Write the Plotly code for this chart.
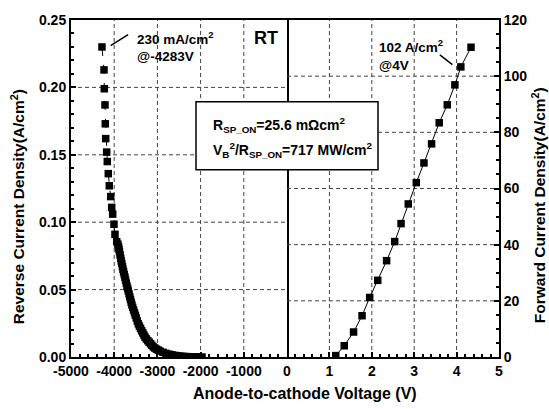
import plotly.graph_objects as go

# ---------------- data ----------------
rev_v = [-4283, -4236, -4229, -4213, -4206, -4197, -4174, -4160, -4137, -4114,
         -4081, -4058, -4035, -4005, -3982, -3942,
         -3915, -3901, -3890, -3878, -3864, -3850, -3837, -3824, -3810, -3797,
         -3782, -3767, -3751, -3736, -3720, -3704, -3689, -3674, -3656, -3639,
         -3623, -3607, -3590, -3572, -3551, -3530, -3510, -3489, -3466, -3442,
         -3417, -3391, -3365, -3338, -3312, -3287, -3255, -3222, -3191, -3160,
         -3128, -3095, -3058, -3021, -2980, -2940, -2871, -2801, -2732, -2662,
         -2593, -2523, -2454, -2384, -2315, -2245, -2153, -2060, -1968]
rev_j = [0.230, 0.213, 0.199, 0.187, 0.173, 0.162, 0.152, 0.145, 0.136, 0.127,
         0.119, 0.111, 0.106, 0.0985, 0.091, 0.0855,
         0.0837, 0.0819, 0.0800, 0.0782, 0.0758, 0.0733, 0.0713, 0.0694, 0.0672, 0.0651,
         0.0631, 0.0612, 0.0591, 0.0570, 0.0548, 0.0526, 0.0508, 0.0490, 0.0468, 0.0446,
         0.0426, 0.0406, 0.0387, 0.0368, 0.0348, 0.0329, 0.0309, 0.0289, 0.0267, 0.0246,
         0.0229, 0.0212, 0.0195, 0.0179, 0.0163, 0.0148, 0.0134, 0.0121, 0.0110, 0.0099,
         0.0087, 0.0075, 0.0066, 0.0058, 0.0051, 0.0044, 0.0035, 0.0027, 0.0021, 0.0016,
         0.0012, 0.0009, 0.0006, 0.0004, 0.0003, 0.0002, 0.0001, 0.0001, 0.0]

fwd_v = [1.15, 1.35, 1.57, 1.77, 1.95, 2.14, 2.35, 2.54, 2.69, 2.86,
         3.05, 3.23, 3.41, 3.59, 3.78, 3.96, 4.10, 4.34]
fwd_j = [0.5, 4.0, 8.9, 14.7, 21.2, 27.3, 34.3, 41.1, 47.5, 54.5,
         62.1, 69.1, 75.9, 83.4, 89.8, 96.9, 103.3, 110.3]

rev_ticks = [-5000, -4000, -3000, -2000, -1000]
rev_tick_labels = ["-5000", "-4000", "-3000", "-2000", "-1000"]
fwd_ticks = [0, 1, 2, 3, 4, 5]
rev_y_ticks = [0.0, 0.05, 0.10, 0.15, 0.20, 0.25]
fwd_y_ticks = [0, 20, 40, 60, 80, 100, 120]

REV_X_RANGE = [-5000, 0]
FWD_X_RANGE = [0, 5]
REV_Y_RANGE = [0, 0.25]
FWD_Y_RANGE = [0, 120]

# ---------------- layout geometry ----------------
W_FIG, H_FIG = 549, 409
L, R, T, B = 71, 499, 15, 357
PW, PH = R - L, B - T
SPLIT = (287 - L) / PW


def px(x):
    return (x - L) / PW


def py(y):
    return (B - y) / PH


FONT = "Liberation Sans, Arial, sans-serif"
tickfont = dict(family=FONT, size=14, color="black", weight="bold")

common_axis = dict(
    showline=True, linewidth=2, linecolor="black",
    ticks="inside", ticklen=5, tickwidth=1.5, tickcolor="black",
    showgrid=False, zeroline=False, tickfont=tickfont,
)

fig = go.Figure()


def grid_trace(xs, ys, xa, ya):
    return go.Scatter(x=xs, y=ys, xaxis=xa, yaxis=ya, mode="lines", hoverinfo="skip",
                      line=dict(color="#444444", width=1, dash="4px,3px"), showlegend=False)


def vlines(vals, yr):
    xs, ys = [], []
    for v in vals:
        xs += [v, v, None]
        ys += [yr[0], yr[1], None]
    return xs, ys


def hlines(vals, xr):
    xs, ys = [], []
    for v in vals:
        xs += [xr[0], xr[1], None]
        ys += [v, v, None]
    return xs, ys


# dotted grid (inner tick positions of each panel)
fig.add_trace(grid_trace(*vlines(rev_ticks[1:], REV_Y_RANGE), "x", "y"))
fig.add_trace(grid_trace(*hlines(rev_y_ticks[1:-1], REV_X_RANGE), "x", "y"))
fig.add_trace(grid_trace(*vlines(fwd_ticks[1:-1], FWD_Y_RANGE), "x2", "y2"))
fig.add_trace(grid_trace(*hlines(fwd_y_ticks[1:-1], FWD_X_RANGE), "x2", "y2"))

fig.add_trace(go.Scatter(
    x=rev_v, y=rev_j, xaxis="x", yaxis="y", mode="lines+markers",
    marker=dict(symbol="square", size=7.5, color="black"),
    line=dict(color="black", width=1, dash="dash"), showlegend=False,
))
fig.add_trace(go.Scatter(
    x=fwd_v, y=fwd_j, xaxis="x2", yaxis="y2", mode="lines+markers",
    marker=dict(symbol="square", size=7.5, color="black"),
    line=dict(color="black", width=1), showlegend=False,
))

fig.update_layout(
    width=W_FIG, height=H_FIG,
    margin=dict(l=L, r=W_FIG - R, t=T, b=H_FIG - B),
    paper_bgcolor="white", plot_bgcolor="white",
    font=dict(family=FONT, color="black"),
    xaxis=dict(common_axis, domain=[0, SPLIT], range=REV_X_RANGE, anchor="y", mirror=True,
               tickmode="array", tickvals=rev_ticks, ticktext=rev_tick_labels,
               minor=dict(ticks="inside", ticklen=3, dtick=200, tickcolor="black")),
    xaxis2=dict(common_axis, domain=[SPLIT, 1], range=FWD_X_RANGE, anchor="y2", mirror=True,
                tickmode="array", tickvals=fwd_ticks,
                minor=dict(ticks="inside", ticklen=3, dtick=0.2, tickcolor="black")),
    yaxis=dict(common_axis, domain=[0, 1], range=REV_Y_RANGE, anchor="x", mirror=True,
               tickmode="array", tickvals=rev_y_ticks, tickformat=".2f",
               minor=dict(ticks="inside", ticklen=3, dtick=0.01, tickcolor="black")),
    yaxis2=dict(common_axis, domain=[0, 1], range=FWD_Y_RANGE, anchor="x2", side="right", mirror=False,
                tickmode="array", tickvals=fwd_y_ticks,
                minor=dict(ticks="inside", ticklen=3, dtick=5, tickcolor="black")),
)

# parameter box
fig.add_shape(type="rect", xref="paper", yref="paper",
              x0=px(196), x1=px(378), y0=py(167), y1=py(98),
              line=dict(color="black", width=1.5), fillcolor="white", layer="above")

ann_font = dict(family=FONT, size=13.5, color="black", weight="bold")
box_font = dict(family=FONT, size=14, color="black", weight="bold")
title_font = dict(family=FONT, size=16, color="black", weight="bold")
ytitle_font = dict(family=FONT, size=15.5, color="black", weight="bold")

anns = [
    dict(text="230 mA/cm<sup>2</sup>", x=px(135), y=py(33), xanchor="left", yanchor="middle", font=ann_font),
    dict(text="@-4283V", x=px(135), y=py(52), xanchor="left", yanchor="middle", font=ann_font),
    dict(text="RT", x=px(266), y=py(33), xanchor="center", yanchor="middle",
         font=dict(family=FONT, size=18, color="black", weight="bold")),
    dict(text="102 A/cm<sup>2</sup>", x=px(377), y=py(41), xanchor="left", yanchor="middle", font=ann_font),
    dict(text="@4V", x=px(377), y=py(61), xanchor="left", yanchor="middle", font=ann_font),
    dict(text="R<sub>SP_ON</sub>=25.6 mΩcm<sup>2</sup>", x=px(211), y=py(122),
         xanchor="left", yanchor="middle", font=box_font),
    dict(text="V<sub>B</sub><sup>2</sup>/R<sub>SP_ON</sub>=717 MW/cm<sup>2</sup>", x=px(211), y=py(147),
         xanchor="left", yanchor="middle", font=box_font),
    dict(text="Anode-to-cathode Voltage (V)", x=px(305), y=py(394),
         xanchor="center", yanchor="middle", font=title_font),
    dict(text="Reverse Current Density(A/cm<sup>2</sup>)", x=px(18), y=py(205), textangle=-90,
         xanchor="center", yanchor="middle", font=ytitle_font),
    dict(text="Forward Current Density(A/cm<sup>2</sup>)", x=px(539), y=py(203), textangle=-90,
         xanchor="center", yanchor="middle", font=ytitle_font),
]
for a in anns:
    fig.add_annotation(xref="paper", yref="paper", showarrow=False, **a)

# leader lines to the labelled points
fig.add_annotation(xref="x", yref="y", x=rev_v[0] + 200, y=rev_j[0] + 0.001, text="",
                   showarrow=True, arrowhead=0, arrowwidth=1.5, arrowcolor="black",
                   ax=19, ay=-12, standoff=0)
fig.add_annotation(xref="x2", yref="y2", x=fwd_v[16] - 0.2, y=fwd_j[16] + 0.8, text="",
                   showarrow=True, arrowhead=0, arrowwidth=1.5, arrowcolor="black",
                   ax=-14, ay=-11, standoff=0)

fig.write_html("out.html", post_script="document.body.style.margin='0';",
               config={"displayModeBar": False})
